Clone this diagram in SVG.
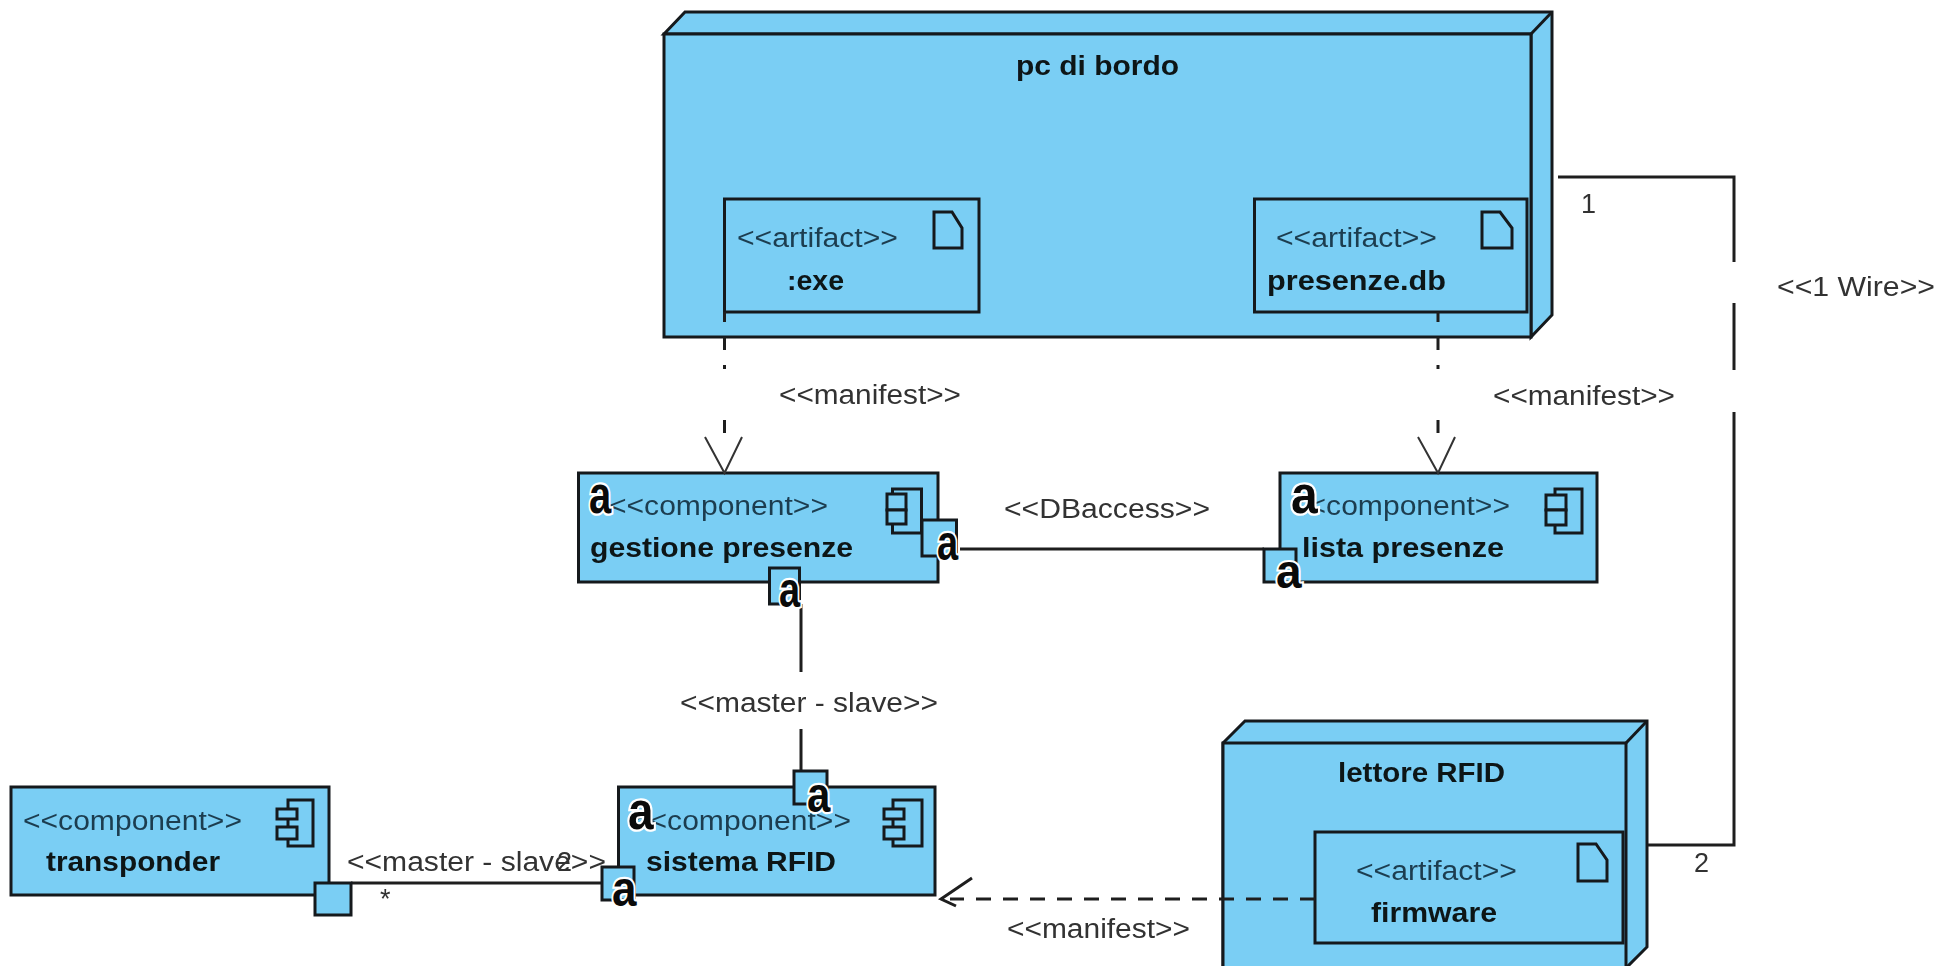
<svg xmlns="http://www.w3.org/2000/svg" width="1949" height="966" viewBox="0 0 1949 966">
<defs>
<filter id="soft" x="-5%" y="-20%" width="110%" height="140%"><feGaussianBlur stdDeviation="0.5"/></filter>
<style>
.b{fill:#7acef4;stroke:#15191c;stroke-width:3}
.t{fill:none;stroke:#15191c;stroke-width:3}
.ln{fill:none;stroke:#1e1e1e;stroke-width:3}
.thin{fill:none;stroke:#333;stroke-width:2}
text{font-family:"Liberation Sans",Arial,sans-serif;font-size:27px}
.n{font-weight:700;fill:#0c1418;filter:url(#soft)}
.s{fill:#1c3d50;filter:url(#soft)}
.w{fill:#333;filter:url(#soft)}
.a{font-weight:700;font-size:40px;fill:#0a0a0a;stroke:#fff;stroke-width:3.5px;paint-order:stroke}
</style></defs>
<rect width="1949" height="966" fill="#fff"/>

<g id="node-pc">
<path class="b" d="M664 34L685 12H1552V315L1531 337V34Z"/>
<rect class="b" x="664" y="34" width="867" height="303"/>
<path class="t" d="M1531 34L1552 12"/>
<text class="n" x="1016" y="75" textLength="163" lengthAdjust="spacingAndGlyphs">pc di bordo</text>
<g id="artifact-exe">
<rect class="b" x="724.500" y="199" width="254.500" height="113"/>
<path class="t" d="M934 212H952L962 228V248H934Z"/>
<text class="s" x="737" y="247" textLength="161" lengthAdjust="spacingAndGlyphs">&lt;&lt;artifact&gt;&gt;</text>
<text class="n" x="787" y="290" textLength="57" lengthAdjust="spacingAndGlyphs">:exe</text>
</g>
<g id="artifact-db">
<rect class="b" x="1254.500" y="199" width="272.500" height="113"/>
<path class="t" d="M1482 212H1500L1512 228V248H1482Z"/>
<text class="s" x="1276" y="247" textLength="161" lengthAdjust="spacingAndGlyphs">&lt;&lt;artifact&gt;&gt;</text>
<text class="n" x="1267" y="290" textLength="179" lengthAdjust="spacingAndGlyphs">presenze.db</text>
</g>
</g>

<g id="node-lettore">
<path class="b" d="M1223 743L1245 721H1647V947L1626 968H1223Z"/>
<path class="b" d="M1223 743H1626V968H1223Z"/>
<path class="t" d="M1626 743L1647 721"/>
<text class="n" x="1338" y="782" textLength="167" lengthAdjust="spacingAndGlyphs">lettore RFID</text>
<g id="artifact-firmware">
<rect class="b" x="1315" y="832" width="308" height="111"/>
<path class="t" d="M1578 844H1596L1607 860V881H1578Z"/>
<text class="s" x="1356" y="880" textLength="161" lengthAdjust="spacingAndGlyphs">&lt;&lt;artifact&gt;&gt;</text>
<text class="n" x="1371" y="922" textLength="126" lengthAdjust="spacingAndGlyphs">firmware</text>
</g>
</g>

<g id="node-gestione">
<rect class="b" x="578.500" y="473" width="359.500" height="109"/>
<rect class="t" x="892.500" y="489" width="29" height="44"/>
<rect class="b" x="887" y="494" width="19" height="16"/>
<rect class="b" x="887" y="510" width="19" height="14"/>
<text class="s" x="609" y="515" textLength="219" lengthAdjust="spacingAndGlyphs">&lt;&lt;component&gt;&gt;</text>
<text class="n" x="590" y="557" textLength="263" lengthAdjust="spacingAndGlyphs">gestione presenze</text>
</g>

<g id="node-lista">
<rect class="b" x="1280" y="473" width="317" height="109"/>
<rect class="t" x="1555" y="489" width="27" height="44"/>
<rect class="b" x="1546" y="495" width="20" height="15"/>
<rect class="b" x="1546" y="510" width="20" height="15"/>
<text class="s" x="1291" y="515" textLength="219" lengthAdjust="spacingAndGlyphs">&lt;&lt;component&gt;&gt;</text>
<text class="n" x="1302" y="557" textLength="202" lengthAdjust="spacingAndGlyphs">lista presenze</text>
</g>

<g id="node-sistema">
<rect class="b" x="618.500" y="787" width="316.500" height="108"/>
<rect class="t" x="893" y="800" width="29" height="46"/>
<rect class="b" x="884" y="809" width="20" height="10"/>
<rect class="b" x="884" y="827" width="20" height="12"/>
<text class="s" x="632" y="830" textLength="219" lengthAdjust="spacingAndGlyphs">&lt;&lt;component&gt;&gt;</text>
<text class="n" x="646" y="871" textLength="190" lengthAdjust="spacingAndGlyphs">sistema RFID</text>
</g>

<g id="node-transponder">
<rect class="b" x="11" y="787" width="318" height="108"/>
<rect class="t" x="288" y="800" width="25" height="46"/>
<rect class="b" x="277" y="809" width="20" height="10"/>
<rect class="b" x="277" y="827" width="20" height="12"/>
<text class="s" x="23" y="830" textLength="219" lengthAdjust="spacingAndGlyphs">&lt;&lt;component&gt;&gt;</text>
<text class="n" x="46" y="871" textLength="174" lengthAdjust="spacingAndGlyphs">transponder</text>
</g>

<g id="connectors">
<path class="ln" d="M724.500 312V322M724.500 337V350M724.500 365V369M724.500 420V433"/>
<path class="thin" d="M705 437L724.500 473L742 437"/>
<path class="ln" d="M1438 312V322M1438 337V350M1438 365V369M1438 420V433"/>
<path class="thin" d="M1418 437L1438 473L1455 437"/>
<path class="ln" d="M960 549H1264"/>
<path class="ln" d="M801 604V672M801 729V771"/>
<path class="ln" d="M351 883H602"/>
<path class="ln" d="M1558 177H1734V262M1734 303V370M1734 412V845H1648"/>
<path class="ln" d="M1315 899H950" stroke-dasharray="15 12"/>
<path class="ln" stroke-width="2.500" d="M972 878L941 899L956 906"/>
<text class="w" x="779" y="404" textLength="182" lengthAdjust="spacingAndGlyphs">&lt;&lt;manifest&gt;&gt;</text>
<text class="w" x="1493" y="405" textLength="182" lengthAdjust="spacingAndGlyphs">&lt;&lt;manifest&gt;&gt;</text>
<text class="w" x="1007" y="938" textLength="183" lengthAdjust="spacingAndGlyphs">&lt;&lt;manifest&gt;&gt;</text>
<text class="w" x="1004" y="518" textLength="206" lengthAdjust="spacingAndGlyphs">&lt;&lt;DBaccess&gt;&gt;</text>
<text class="w" x="680" y="712" textLength="258" lengthAdjust="spacingAndGlyphs">&lt;&lt;master - slave&gt;&gt;</text>
<text class="w" x="347" y="871" textLength="259" lengthAdjust="spacingAndGlyphs">&lt;&lt;master - slave&gt;&gt;</text>
<text class="w" x="557" y="871">2</text>
<text class="w" x="380" y="908">*</text>
<text class="w" x="1777" y="296" textLength="158" lengthAdjust="spacingAndGlyphs">&lt;&lt;1 Wire&gt;&gt;</text>
<text class="w" x="1581" y="213">1</text>
<text class="w" x="1694" y="872">2</text>
</g>

<g id="ports">
<rect class="b" x="922" y="520" width="34.500" height="36"/>
<rect class="b" x="769.500" y="568" width="30" height="36"/>
<rect class="b" x="1264" y="549" width="32" height="33"/>
<rect class="b" x="794" y="771" width="33" height="33"/>
<rect class="b" x="602" y="867" width="32" height="33"/>
<rect class="b" x="315" y="883" width="36" height="32"/>
<text class="a" transform="translate(589 513) scale(1,1.32)">a</text>
<text class="a" transform="translate(937 560) scale(.95,1.25)">a</text>
<text class="a" transform="translate(779 607) scale(.95,1.25)">a</text>
<text class="a" transform="translate(1291 513) scale(1.2,1.32)">a</text>
<text class="a" transform="translate(1276 588) scale(1.15,1.2)">a</text>
<text class="a" transform="translate(628 829) scale(1.15,1.32)">a</text>
<text class="a" transform="translate(807 812) scale(1.05,1.25)">a</text>
<text class="a" transform="translate(612 906) scale(1.1,1.25)">a</text>
</g>
</svg>
